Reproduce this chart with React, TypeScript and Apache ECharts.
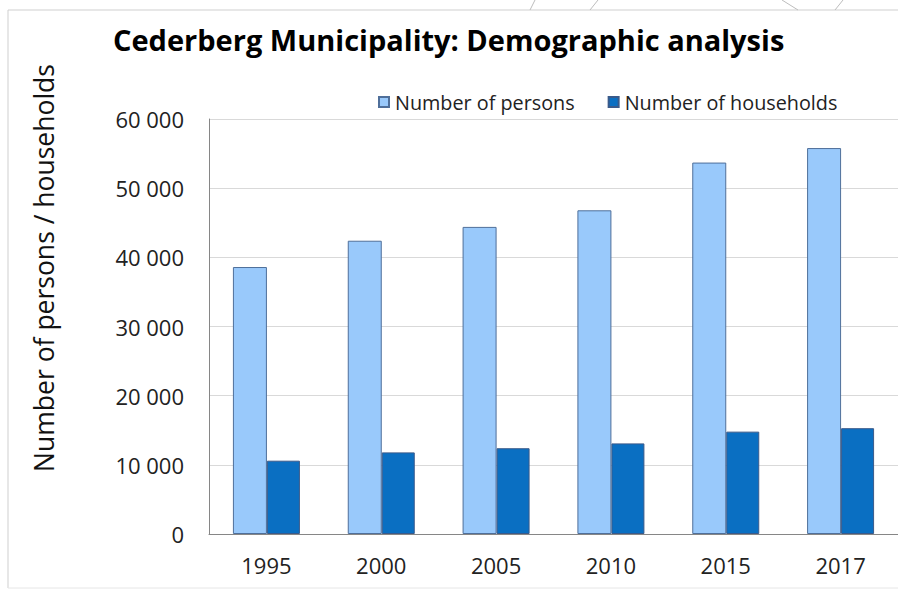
import React, { useEffect, useRef } from "react";
import * as echarts from "echarts";

const categories = ["1995", "2000", "2005", "2010", "2015", "2017"];
const persons = [38600, 42400, 44400, 46800, 53700, 55800];
const households = [10600, 11800, 12400, 13100, 14800, 15300];
const seriesNames = ["Number of persons", "Number of households"];
const titleText = "Cederberg Municipality: Demographic analysis";
const yTitle = "Number of persons / households";

const FONT = "'Open Sans', 'Noto Sans', sans-serif";

export default function App() {
  const ref = useRef<HTMLDivElement>(null);
  useEffect(() => {
    const chart = echarts.init(ref.current!, undefined, { renderer: "svg" });
    chart.setOption({
      animation: false,
      backgroundColor: "#ffffff",
      textStyle: { fontFamily: FONT },
      title: {
        text: titleText,
        left: 108,
        top: 20,
        textStyle: { fontFamily: FONT, fontSize: 29, fontWeight: "bold", color: "#000000" },
      },
      legend: {
        left: 373,
        top: 87,
        itemWidth: 10,
        itemHeight: 10,
        itemGap: 33,
        icon: "rect",
        textStyle: { fontFamily: FONT, fontSize: 19.8, color: "#222222", padding: [0, 0, 0, 1] },
        data: seriesNames,
      },
      grid: { left: 209, top: 119, width: 694, height: 415, containLabel: false },
      xAxis: {
        type: "category",
        data: categories,
        axisTick: { show: false },
        axisLine: { lineStyle: { color: "#868686", width: 1 } },
        axisLabel: { fontFamily: FONT, fontSize: 22, color: "#222222", margin: 20 },
      },
      yAxis: {
        type: "value",
        min: 0,
        max: 60000,
        interval: 10000,
        axisLine: { show: true, lineStyle: { color: "#868686", width: 1 } },
        axisTick: { show: false },
        splitLine: { lineStyle: { color: "#d9d9d9", width: 1 } },
        axisLabel: {
          fontFamily: FONT,
          fontSize: 22,
          color: "#222222",
          margin: 25,
          formatter: (v: number) => (v === 0 ? "0" : `${v / 1000} 000`),
        },
      },
      series: [
        {
          name: seriesNames[0],
          type: "bar",
          data: persons,
          barWidth: 34,
          barGap: "0%",
          itemStyle: { color: "#99c9fb", borderColor: "#4f6f9a", borderWidth: 1 },
        },
        {
          name: seriesNames[1],
          type: "bar",
          data: households,
          barWidth: 33,
          barGap: "0%",
          itemStyle: { color: "#0a6fc2", borderColor: "#3a5a8a", borderWidth: 1 },
        },
      ],
      graphic: [
        { type: "line", shape: { x1: 8, y1: 10, x2: 898, y2: 10 }, style: { stroke: "#cfcfcf", lineWidth: 1 } },
        { type: "line", shape: { x1: 8, y1: 10, x2: 8, y2: 588 }, style: { stroke: "#cfcfcf", lineWidth: 1 } },
        { type: "line", shape: { x1: 8, y1: 588, x2: 898, y2: 588 }, style: { stroke: "#e6e6e6", lineWidth: 1 } },
        { type: "line", shape: { x1: 530, y1: 10, x2: 535, y2: 0 }, style: { stroke: "#bdbdbd", lineWidth: 1 } },
        { type: "line", shape: { x1: 590, y1: 10, x2: 598, y2: 0 }, style: { stroke: "#bdbdbd", lineWidth: 1 } },
        { type: "line", shape: { x1: 782, y1: 0, x2: 798, y2: 10 }, style: { stroke: "#bdbdbd", lineWidth: 1 } },
        { type: "line", shape: { x1: 835, y1: 10, x2: 843, y2: 0 }, style: { stroke: "#bdbdbd", lineWidth: 1 } },
        {
          type: "text",
          x: 44,
          y: 268,
          rotation: Math.PI / 2,
          style: {
            text: yTitle,
            fontFamily: FONT,
            fontSize: 26.5,
            fill: "#111111",
            align: "center",
            verticalAlign: "middle",
          },
        },
      ],
    });
    return () => chart.dispose();
  }, []);
  return <div ref={ref} style={{ width: 898, height: 591, position: "absolute", left: 0, top: 0 }} />;
}
